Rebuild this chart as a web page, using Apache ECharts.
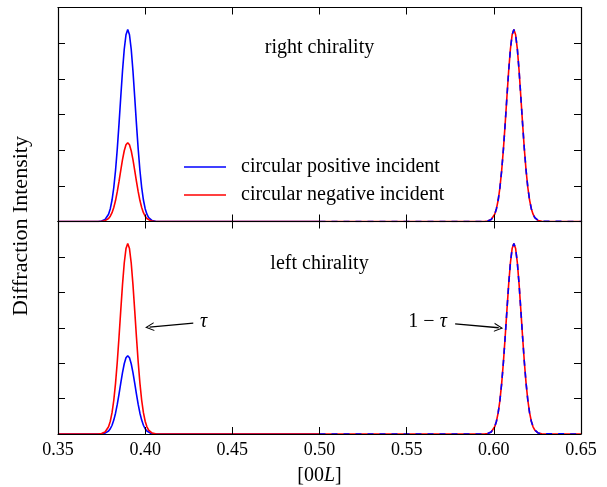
<!DOCTYPE html>
<html>
<head>
<meta charset="utf-8">
<script src="https://cdn.jsdelivr.net/npm/echarts@6/dist/echarts.min.js"></script>
<style>html,body{margin:0;padding:0;background:#fff}#c{width:607px;height:487px}</style>
</head>
<body>
<div id="c"></div>
<script>
// ---- data ----
const xTicks = [0.35, 0.40, 0.45, 0.50, 0.55, 0.60, 0.65];
const leftX = [0.373,0.374,0.375,0.376,0.377,0.378,0.379,0.380,0.381,0.382,0.383,0.384,0.385,0.386,0.387,0.388,0.389,0.390,0.391,0.392,0.393,0.394,0.395,0.396,0.397,0.398,0.399,0.400,0.401,0.402,0.403,0.404,0.405,0.406,0.407];
const rightX = [0.5945,0.5955,0.5965,0.5975,0.5985,0.5995,0.6005,0.6015,0.6025,0.6035,0.6045,0.6055,0.6065,0.6075,0.6085,0.6095,0.6105,0.6115,0.6125,0.6135,0.6145,0.6155,0.6165,0.6175,0.6185,0.6195,0.6205,0.6215,0.6225,0.6235,0.6245,0.6255,0.6265,0.6275,0.6285];
const tallPeak = [0.002,0.005,0.012,0.027,0.056,0.110,0.204,0.360,0.602,0.953,1.430,2.033,2.737,3.490,4.218,4.829,5.236,5.380,5.236,4.829,4.218,3.490,2.737,2.033,1.430,0.953,0.602,0.360,0.204,0.110,0.056,0.027,0.012,0.005,0.002];
const shortPeak = [0.001,0.002,0.005,0.011,0.023,0.045,0.084,0.148,0.247,0.392,0.587,0.835,1.124,1.434,1.733,1.983,2.151,2.210,2.151,1.983,1.733,1.434,1.124,0.835,0.587,0.392,0.247,0.148,0.084,0.045,0.023,0.011,0.005,0.002,0.001];
// right chirality (top panel)
const topPositiveLeft = tallPeak;
const topNegativeLeft = shortPeak;
const topPositiveRight = tallPeak;
const topNegativeRight = tallPeak;
// left chirality (bottom panel)
const bottomPositiveLeft = shortPeak;
const bottomNegativeLeft = tallPeak;
const bottomPositiveRight = tallPeak;
const bottomNegativeRight = tallPeak;
const seriesNames = ['circular positive incident', 'circular negative incident'];
const panelLabels = ['right chirality', 'left chirality'];

// ---- build ----
const FONT = 'Liberation Serif';
const TXT = 20;
const BLUE = '#0000ff', RED = '#ff0000';
function pairs(xs, ys) { return xs.map((x, i) => [x, ys[i]]); }
const xMin = xTicks[0], xMax = xTicks[xTicks.length - 1];

const grids = [
  { left: 58, right: 26, top: 7.5, height: 214 },
  { left: 58, right: 26, top: 221.5, height: 214 }
];

const axisLine = { show: true, onZero: false, lineStyle: { color: '#000', width: 1.2 } };
const tick = { inside: true, length: 7, lineStyle: { color: '#000', width: 1 } };
const xAxes = [], yAxes = [];
for (let g = 0; g < 2; g++) {
  ['bottom', 'top'].forEach(pos => {
    const showLabel = (g === 1 && pos === 'bottom');
    xAxes.push({
      type: 'value', gridIndex: g, position: pos, min: xMin, max: xMax, interval: 0.05, z: 5,
      axisLine, axisTick: tick,
      splitLine: { show: false },
      axisLabel: { show: showLabel, formatter: v => v.toFixed(2), fontFamily: FONT, fontSize: 18, color: '#000', margin: 7 },
      name: showLabel ? '[00{i|L}]' : '',
      nameLocation: 'middle', nameGap: 32,
      nameTextStyle: { fontFamily: FONT, fontSize: TXT, color: '#000',
        rich: { i: { fontFamily: FONT, fontSize: TXT, fontStyle: 'italic', color: '#000' } } }
    });
  });
  ['left', 'right'].forEach(pos => {
    yAxes.push({
      type: 'value', gridIndex: g, position: pos, min: 0, max: 6, interval: 1, z: 5,
      axisLine, axisTick: tick,
      splitLine: { show: false }, axisLabel: { show: false }
    });
  });
}

function label(text, coord) {
  return {
    coord, symbol: 'circle', symbolSize: 1, itemStyle: { color: 'rgba(0,0,0,0)' },
    label: { show: true, position: 'inside', formatter: text, fontFamily: FONT, fontSize: TXT, color: '#000',
      rich: { i: { fontFamily: FONT, fontSize: TXT, fontStyle: 'italic', color: '#000' },
              n: { fontFamily: FONT, fontSize: TXT, color: '#000' } } }
  };
}
const arrowHead = 'path://M5,0 L10,10 L8.7,10 L5,2.6 L1.3,10 L0,10 Z';
function arrow(from, to) {
  return [{ coord: from, symbol: 'none' }, { coord: to, symbol: arrowHead, symbolSize: [9, 9] }];
}

function panelSeries(g, posL, negL, posR, negR, labels, arrows) {
  const xi = g * 2, yi = g * 2;
  const red = [[xMin, 0]].concat(pairs(leftX, negL), pairs(rightX, negR), [[xMax, 0]]);
  const blueL = [[xMin, 0]].concat(pairs(leftX, posL), [[0.5, 0]]);
  const blueR = [[0.5, 0]].concat(pairs(rightX, posR), [[xMax, 0]]);
  const base = { type: 'line', xAxisIndex: xi, yAxisIndex: yi, symbol: 'none', showSymbol: false, animation: false, silent: true };
  return [
    Object.assign({}, base, { name: seriesNames[0], data: blueL, z: 2, lineStyle: { color: BLUE, width: 1.6 }, itemStyle: { color: BLUE } }),
    Object.assign({}, base, { name: seriesNames[1], data: red, z: 3, lineStyle: { color: RED, width: 1.6 }, itemStyle: { color: RED },
      markPoint: { silent: true, animation: false, data: labels },
      markLine: arrows.length ? { silent: true, animation: false, symbol: 'none', label: { show: false },
        lineStyle: { color: '#000', width: 1.3, type: 'solid' }, data: arrows } : undefined }),
    Object.assign({}, base, { name: seriesNames[0], data: blueR, z: 4, lineStyle: { color: BLUE, width: 1.6, type: [6, 6] }, itemStyle: { color: BLUE } })
  ];
}

const series = [].concat(
  panelSeries(0, topPositiveLeft, topNegativeLeft, topPositiveRight, topNegativeRight,
    [label(panelLabels[0], [0.5, 4.87])], []),
  panelSeries(1, bottomPositiveLeft, bottomNegativeLeft, bottomPositiveRight, bottomNegativeRight,
    [label(panelLabels[1], [0.5, 4.80]), label('{i|τ}', [0.4335, 3.16]), label('{n|1 − }{i|τ}', [0.562, 3.16])],
    [arrow([0.4276, 3.13], [0.4025, 3.02]), arrow([0.5778, 3.11], [0.6028, 3.0])])
);

const chart = echarts.init(document.getElementById('c'), null, { renderer: 'canvas' });
chart.setOption({
  animation: false,
  backgroundColor: '#fff',
  grid: grids,
  xAxis: xAxes,
  yAxis: yAxes,
  legend: {
    data: seriesNames, orient: 'vertical', left: 184, top: 153, padding: 0,
    icon: 'rect', itemWidth: 42, itemHeight: 1.6, itemGap: 0,
    textStyle: { fontFamily: FONT, fontSize: TXT, color: '#000', lineHeight: 28, padding: [0, 0, 0, 10] },
    selectedMode: false
  },
  graphic: [{
    type: 'text', x: 21, y: 226, rotation: Math.PI / 2,
    style: { text: 'Diffraction Intensity', font: '22px "Liberation Serif"', fill: '#000', align: 'center', verticalAlign: 'middle' }
  }],
  series
});
</script>
</body>
</html>
